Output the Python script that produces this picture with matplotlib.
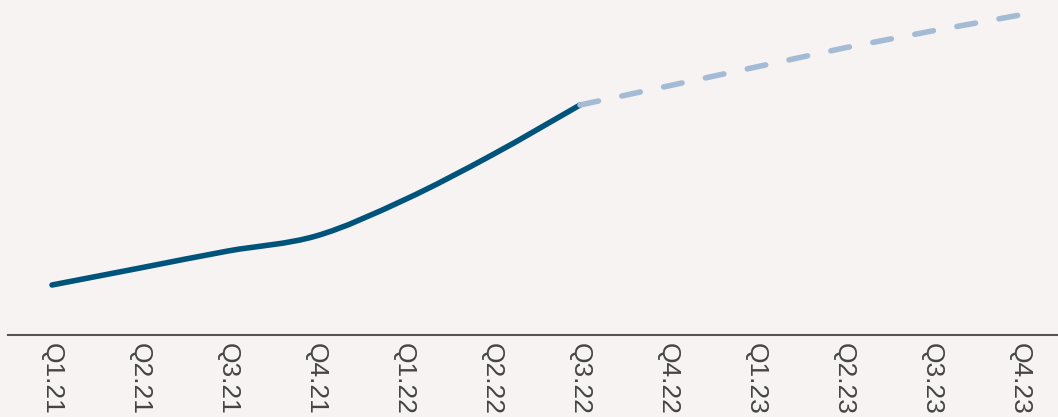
import numpy as np
import matplotlib.pyplot as plt
from matplotlib.path import Path
from matplotlib.patches import PathPatch

# Quarter labels and values (arbitrary index)
quarters = ['Q1.21', 'Q2.21', 'Q3.21', 'Q4.21', 'Q1.22', 'Q2.22',
            'Q3.22', 'Q4.22', 'Q1.23', 'Q2.23', 'Q3.23', 'Q4.23']
actual_values = [50, 67, 84, 99, 135, 180, 230]
forecast_values = [230, 249, 268, 287, 304, 320]

bg = '#f7f3f2'
fig = plt.figure(figsize=(10.58, 4.17), dpi=100, facecolor=bg)
ax = fig.add_axes([8 / 1058, 1 - 335 / 417, 1 - 8 / 1058, 335 / 417])
ax.set_facecolor(bg)

x_actual = np.arange(len(actual_values))
x_forecast = np.arange(len(actual_values) - 1, len(quarters))


def smooth_path(xs, ys, t=1 / 6.):
    # catmull-rom style bezier through the points
    pts = np.column_stack([xs, ys]).astype(float)
    verts = [pts[0]]
    codes = [Path.MOVETO]
    n = len(pts)
    for i in range(n - 1):
        p0 = pts[max(i - 1, 0)]
        p1 = pts[i]
        p2 = pts[i + 1]
        p3 = pts[min(i + 2, n - 1)]
        c1 = p1 + (p2 - p0) * t
        c2 = p2 - (p3 - p1) * t
        verts += [c1, c2, p2]
        codes += [Path.CURVE4] * 3
    return Path(verts, codes)


ax.plot(x_forecast, forecast_values, color='#a3bbd4', lw=4,
        linestyle=(0, (3.4, 4.3)), dash_capstyle='round', solid_capstyle='round')
ax.add_patch(PathPatch(smooth_path(x_actual, actual_values), facecolor='none',
                       edgecolor='#00537a', lw=4, capstyle='round', joinstyle='round'))

ax.set_xlim(-0.5, (1058 - 52) / 88)
ax.set_ylim(0, 335)

ax.set_xticks(np.arange(len(quarters)))
ax.set_xticklabels(quarters, rotation=270, fontsize=19, color='#444444',
                   family=['Liberation Sans', 'DejaVu Sans'], va='top', ha='center')
ax.tick_params(axis='x', length=0, pad=6)
ax.set_yticks([])

for side in ['top', 'right', 'left']:
    ax.spines[side].set_visible(False)
ax.spines['bottom'].set_color('#555555')
ax.spines['bottom'].set_linewidth(1.5)

fig.savefig('out.png', dpi=100, facecolor=bg)
